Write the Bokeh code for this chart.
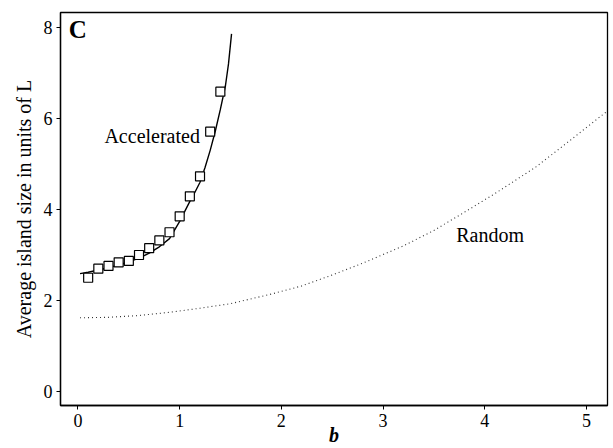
from bokeh.plotting import figure
from bokeh.models import FixedTicker, Label, Range1d
from bokeh.embed import file_html
from bokeh.resources import INLINE

# Accelerated: simulation points (squares)
acc_b = [0.1, 0.2, 0.3, 0.4, 0.5, 0.6, 0.7, 0.8, 0.9, 1.0, 1.1, 1.2, 1.3, 1.4]
acc_size = [2.50, 2.70, 2.76, 2.84, 2.87, 3.00, 3.15, 3.32, 3.50, 3.85, 4.29, 4.73, 5.71, 6.59]

# Accelerated: theory curve (solid)
acc_curve_b = [0.02, 0.1, 0.2, 0.3, 0.4, 0.5, 0.6, 0.7, 0.8, 0.9, 1.0, 1.05, 1.1,
               1.15, 1.2, 1.25, 1.3, 1.35, 1.4, 1.45, 1.48, 1.51]
acc_curve_size = [2.59, 2.62, 2.67, 2.72, 2.78, 2.85, 2.93, 3.04, 3.18, 3.36, 3.74, 3.96, 4.18,
                  4.38, 4.60, 4.93, 5.30, 5.72, 6.20, 6.72, 7.20, 7.86]

# Random: theory curve (dotted)
rand_b = [0.02, 0.3, 0.6, 0.9, 1.2, 1.5, 1.9, 2.2, 2.5, 2.8, 3.2, 3.5, 3.8, 4.1, 4.5, 4.8, 5.22]
rand_size = [1.62, 1.63, 1.67, 1.74, 1.83, 1.93, 2.14, 2.32, 2.56, 2.82, 3.20, 3.54, 3.94,
             4.35, 4.93, 5.45, 6.19]

x_ticks = [0, 1, 2, 3, 4, 5]
y_ticks = [0, 2, 4, 6, 8]

FONT = "'Liberation Serif', 'Times New Roman', serif"

p = figure(width=613, height=448, output_backend="svg", toolbar_location=None,
           x_range=Range1d(-0.172, 5.207), y_range=Range1d(-0.308, 8.33),
           min_border_left=60, min_border_right=6, min_border_top=12, min_border_bottom=43)

p.background_fill_color = "white"
p.border_fill_color = "white"
p.outline_line_color = "black"
p.outline_line_width = 1.3
p.xgrid.visible = False
p.ygrid.visible = False

for ax in (p.xaxis[0], p.yaxis[0]):
    ax.minor_tick_line_color = None
    ax.major_tick_out = 4
    ax.major_tick_in = 0
    ax.major_tick_line_color = "black"
    ax.axis_line_color = "black"
    ax.axis_line_width = 1.3
    ax.major_label_text_font = FONT
    ax.major_label_text_font_size = "18px"
    ax.major_label_text_color = "black"
    ax.axis_label_text_font = FONT
    ax.axis_label_text_color = "black"

p.xaxis.ticker = FixedTicker(ticks=x_ticks)
p.yaxis.ticker = FixedTicker(ticks=y_ticks)
p.xaxis.major_label_standoff = 4
p.yaxis.major_label_standoff = 4
p.xaxis.axis_label = "b"
p.xaxis.axis_label_text_font_style = "bold italic"
p.xaxis.axis_label_text_font_size = "20px"
p.xaxis.axis_label_standoff = -6
p.yaxis.axis_label = "Average island size in units of L"
p.yaxis.axis_label_text_font_style = "normal"
p.yaxis.axis_label_text_font_size = "20px"
p.yaxis.axis_label_standoff = 6

p.line(rand_b, rand_size, line_color="#333333", line_width=1.1, line_dash="1 3")
p.line(acc_curve_b, acc_curve_size, line_color="black", line_width=1.4)
p.scatter(acc_b, acc_size, marker="square", size=9, fill_color="white",
          line_color="black", line_width=1.2)

p.add_layout(Label(x=-0.09, y=7.96, text="C", text_font=FONT, text_font_size="25px",
                   text_font_style="bold", text_color="black", text_baseline="alphabetic"))
p.add_layout(Label(x=0.26, y=5.61, text="Accelerated", text_font=FONT, text_font_size="20px",
                   text_color="black", text_baseline="alphabetic"))
p.add_layout(Label(x=3.72, y=3.44, text="Random", text_font=FONT, text_font_size="20px",
                   text_color="black", text_baseline="alphabetic"))

open("out.html", "w").write(file_html(p, INLINE))
